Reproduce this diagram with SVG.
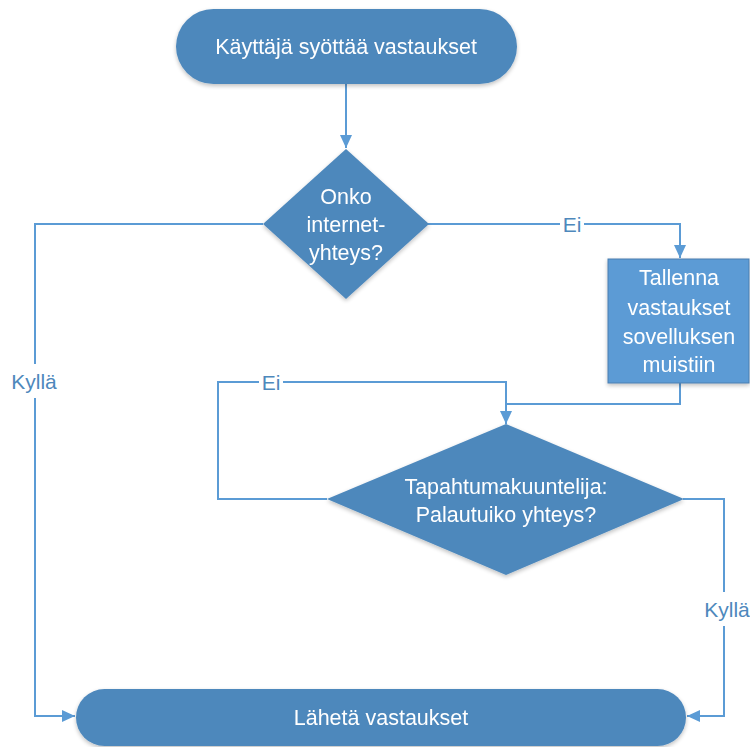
<svg xmlns="http://www.w3.org/2000/svg" width="750" height="747" viewBox="0 0 750 747">
<style>
.node{fill:#4E88BC;}
.proc{fill:#5B9BD5;stroke:#4A7EB0;stroke-width:1;}
.t{font-family:"Liberation Sans",Arial,sans-serif;font-size:21.5px;fill:#FFFFFF;text-anchor:middle;dominant-baseline:central;}
.lbl{font-family:"Liberation Sans",Arial,sans-serif;font-size:21px;fill:#4E88BC;text-anchor:middle;dominant-baseline:central;}
.c{fill:none;stroke:#5B9BD5;stroke-width:2;}
.bg{fill:#FFFFFF;}
</style>
<defs>
<filter id="sh" x="-10%" y="-10%" width="120%" height="130%">
<feGaussianBlur in="SourceAlpha" stdDeviation="2"/>
<feOffset dx="0" dy="2" result="b"/>
<feComponentTransfer><feFuncA type="linear" slope="0.25"/></feComponentTransfer>
<feMerge><feMergeNode/><feMergeNode in="SourceGraphic"/></feMerge>
</filter>
<marker id="arr" markerUnits="userSpaceOnUse" markerWidth="14" markerHeight="12" refX="13" refY="6" orient="auto">
<path d="M0,0 L13,6 L0,12 z" fill="#5B9BD5"/>
</marker>
</defs>
<g id="connectors">
<path class="c" d="M346,84 V148" marker-end="url(#arr)"/>
<path class="c" d="M263,224 H35 V716 H75" marker-end="url(#arr)"/>
<path class="c" d="M428,224 H680 V258" marker-end="url(#arr)"/>
<path class="c" d="M680,383 V404 H506 V424" marker-end="url(#arr)"/>
<path class="c" d="M327,499 H218 V382 H506 V404"/>
<path class="c" d="M683,499 H724 V716 H687" marker-end="url(#arr)"/>
<rect class="bg" x="10" y="364" width="50" height="34"/>
<text class="lbl" x="34" y="381">Kyllä</text>
<rect class="bg" x="560" y="211" width="24" height="26"/>
<text class="lbl" x="572" y="224">Ei</text>
<rect class="bg" x="259" y="369" width="24" height="26"/>
<text class="lbl" x="271" y="382">Ei</text>
<rect class="bg" x="703" y="592" width="47" height="34"/>
<text class="lbl" x="727" y="609">Kyllä</text>
</g>
<g id="start" filter="url(#sh)">
<rect class="node" x="176" y="9" width="341" height="75" rx="37.5" ry="37.5"/>
<text class="t" x="346" y="47">Käyttäjä syöttää vastaukset</text>
</g>
<g id="decision1" filter="url(#sh)">
<polygon class="node" points="346,149 429,224 346,299 263,224"/>
<text class="t" x="346" y="197">Onko</text>
<text class="t" x="346" y="225">internet-</text>
<text class="t" x="346" y="253">yhteys?</text>
</g>
<g id="save" filter="url(#sh)">
<rect class="proc" x="608" y="259" width="141" height="124"/>
<text class="t" x="679" y="278">Tallenna</text>
<text class="t" x="679" y="308">vastaukset</text>
<text class="t" x="679" y="337">sovelluksen</text>
<text class="t" x="679" y="365">muistiin</text>
</g>
<g id="decision2" filter="url(#sh)">
<polygon class="node" points="506,424 684,499 506,575 327,499"/>
<text class="t" x="506" y="487">Tapahtumakuuntelija:</text>
<text class="t" x="506" y="515">Palautuiko yhteys?</text>
</g>
<g id="end" filter="url(#sh)">
<rect class="node" x="76" y="689" width="610" height="57" rx="28.5" ry="28.5"/>
<text class="t" x="381" y="718">Lähetä vastaukset</text>
</g>
</svg>
